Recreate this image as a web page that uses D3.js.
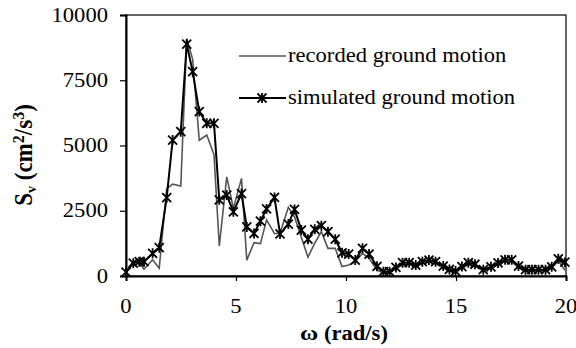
<!DOCTYPE html>
<html>
<head>
<meta charset="utf-8">
<script src="https://cdn.jsdelivr.net/npm/d3@7"></script>
<style>
  body { margin: 0; background: #fff; }
  svg { display: block; }
  text { font-family: "Liberation Serif", "Times New Roman", serif; fill: #000; }
</style>
</head>
<body>
<script>
// frequency (rad/s)
var omega = [0, 0.33, 0.60, 0.82, 1.21, 1.51, 1.85, 2.12, 2.49, 2.76,
  3.03, 3.33, 3.67, 4.00, 4.24, 4.58, 4.88, 5.25, 5.49, 5.82,
  6.11, 6.39, 6.75, 7.00, 7.38, 7.66, 7.97, 8.27, 8.58, 8.88,
  9.18, 9.51, 9.82, 10.12, 10.42, 10.75, 11.05, 11.41, 11.70, 11.98,
  12.27, 12.57, 12.87, 13.17, 13.47, 13.77, 14.07, 14.42, 14.70, 14.98,
  15.27, 15.56, 15.86, 16.24, 16.59, 16.91, 17.23, 17.53, 17.84, 18.16,
  18.45, 18.75, 19.07, 19.35, 19.65, 19.95];

var recorded = [200, 560, 520, 260, 620, 300, 3350, 3520, 3450, 9100,
  8300, 5200, 5400, 4650, 1150, 3800, 2590, 3740, 610, 1280,
  1240, 2150, 1620, 1650, 2630, 2270, 1480, 720, 1260, 1700,
  1060, 1060, 360, 420, 550, 870, 680, 230, 120, 140,
  280, 430, 450, 360, 480, 540, 470, 320, 200, 150,
  300, 440, 380, 200, 300, 430, 560, 540, 320, 200,
  200, 210, 200, 300, 580, 220];

var simulated = [150, 490, 550, 550, 870, 1085, 3000, 5210, 5530, 8880,
  7830, 6300, 5850, 5850, 2920, 3100, 2460, 3160, 1880, 1630,
  2100, 2570, 3010, 1610, 1990, 2550, 1760, 1410, 1790, 1930,
  1700, 1410, 890, 840, 610, 1060, 840, 370, 165, 165,
  330, 510, 510, 420, 550, 610, 550, 380, 250, 190,
  360, 510, 450, 240, 350, 500, 620, 620, 380, 240,
  240, 240, 240, 350, 660, 530];

var xTicks = [0, 5, 10, 15, 20];
var yTicks = [0, 2500, 5000, 7500, 10000];
var legendLabels = ["recorded ground motion", "simulated ground motion"];

var width = 576, height = 348;
var plotL = 126, plotR = 566, plotT = 15, plotB = 276;
var sx = 1.13; // glyphs in the picture are a bit wide

var x = d3.scaleLinear().domain([0, 20]).range([plotL, plotR]);
var y = d3.scaleLinear().domain([0, 10000]).range([plotB, plotT]);

var svg = d3.select("body").append("svg")
    .attr("width", width)
    .attr("height", height);

function label(g, tx, ty, str, anchor, size, weight) {
    return g.append("text")
        .attr("transform", "translate(" + tx + "," + ty + ") scale(" + sx + ",1)")
        .attr("text-anchor", anchor)
        .attr("font-size", size)
        .attr("font-weight", weight || "normal")
        .text(str);
}

// plot frame
svg.append("rect")
    .attr("x", plotL).attr("y", plotT)
    .attr("width", plotR - plotL).attr("height", plotB - plotT)
    .attr("fill", "none")
    .attr("stroke", "#000")
    .attr("stroke-width", 1.2);

// axes
var yAxis = svg.append("g")
    .attr("transform", "translate(" + plotL + ",0)")
    .call(d3.axisLeft(y).tickValues(yTicks).tickSize(6).tickFormat(""));
var xAxis = svg.append("g")
    .attr("transform", "translate(0," + plotB + ")")
    .call(d3.axisBottom(x).tickValues(xTicks).tickSize(5).tickFormat(""));
[yAxis, xAxis].forEach(function(a) {
    a.select(".domain").attr("stroke", "#000").attr("stroke-width", 2);
    a.selectAll(".tick line").attr("stroke", "#000").attr("stroke-width", 1.2);
});

var tl = svg.append("g");
yTicks.forEach(function(t) {
    label(tl, 108, y(t) + 6.5, t, "end", 20);
});
xTicks.forEach(function(t) {
    label(tl, x(t), 313, t, "middle", 20);
});

// axis titles
var xt = label(svg, 344, 340, "", "middle", 20, "bold");
xt.append("tspan").attr("font-size", 22).text("\u03c9");
xt.append("tspan").text("  (rad/s)");

var yt = svg.append("text")
    .attr("transform", "translate(32,155) scale(1.05,1) rotate(-90)")
    .attr("text-anchor", "middle")
    .attr("font-size", 23)
    .attr("font-weight", "bold");
yt.append("tspan").text("S");
yt.append("tspan").attr("font-size", 14).attr("dy", 4).text("v");
yt.append("tspan").attr("dy", -4).text("  (cm");
yt.append("tspan").attr("font-size", 16).attr("dy", -8).text("2");
yt.append("tspan").attr("dy", 8).text("/s");
yt.append("tspan").attr("font-size", 16).attr("dy", -8).text("3");
yt.append("tspan").attr("dy", 8).text(")");

// series
var recData = omega.map(function(w, i) { return [w, recorded[i]]; });
var simData = omega.map(function(w, i) { return [w, simulated[i]]; });

var line = d3.line()
    .x(function(d) { return x(d[0]); })
    .y(function(d) { return y(d[1]); });

svg.append("path")
    .datum(recData)
    .attr("d", line)
    .attr("fill", "none")
    .attr("stroke", "#555")
    .attr("stroke-width", 1.6);

svg.append("path")
    .datum(simData)
    .attr("d", line)
    .attr("fill", "none")
    .attr("stroke", "#000")
    .attr("stroke-width", 2);

var r = 4.5;
function star(sel) {
    sel.attr("fill", "none").attr("stroke", "#000").attr("stroke-width", 1.8)
        .attr("d", "M" + (-r) + "," + (-r) + "L" + r + "," + r +
                   "M" + (-r) + "," + r + "L" + r + "," + (-r) +
                   "M0," + (-r - 0.5) + "L0," + (r + 0.5));
}

svg.append("g").selectAll("path")
    .data(simData)
    .enter().append("path")
    .attr("transform", function(d) { return "translate(" + x(d[0]) + "," + y(d[1]) + ")"; })
    .call(star);

// legend
var lg = svg.append("g");
var legendY = [56, 98];
lg.append("line")
    .attr("x1", 239).attr("x2", 286)
    .attr("y1", legendY[0]).attr("y2", legendY[0])
    .attr("stroke", "#555").attr("stroke-width", 1.6);
lg.append("line")
    .attr("x1", 239).attr("x2", 286)
    .attr("y1", legendY[1]).attr("y2", legendY[1])
    .attr("stroke", "#000").attr("stroke-width", 2);
lg.append("path")
    .attr("transform", "translate(262," + legendY[1] + ")")
    .call(star);
legendLabels.forEach(function(t, i) {
    label(lg, 288, legendY[i] + 6, t, "start", 20);
});
</script>
</body>
</html>
